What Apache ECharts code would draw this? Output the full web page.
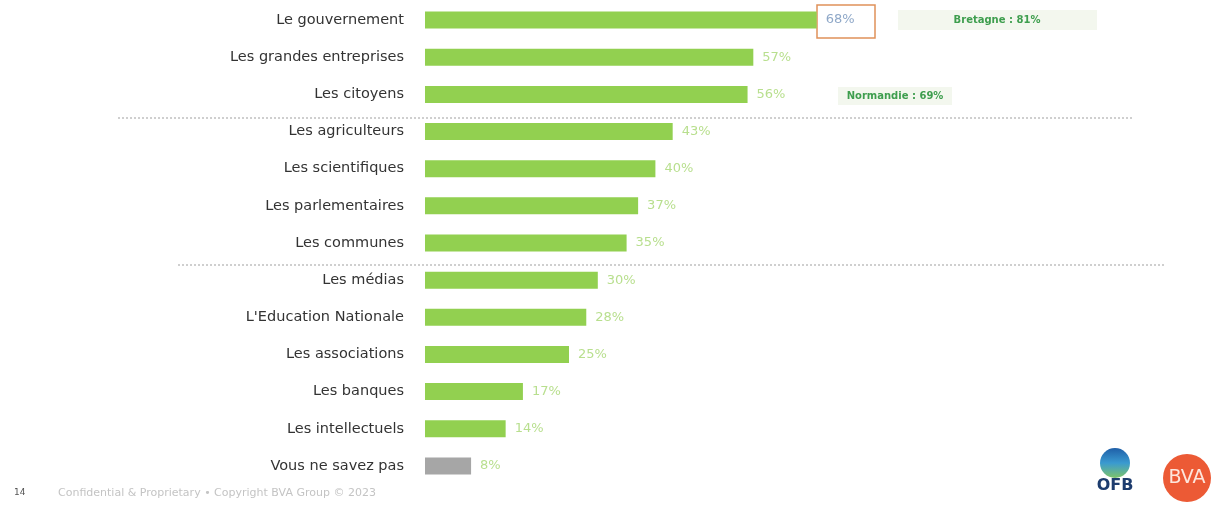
<!DOCTYPE html>
<html>
<head>
<meta charset="utf-8">
<script src="https://cdn.jsdelivr.net/npm/echarts@6/dist/echarts.min.js"></script>
<style>html,body{margin:0;padding:0;background:#fff;}#c{width:1211px;height:511px;}</style>
</head>
<body>
<div id="c"></div>
<script>
const categories = ["Le gouvernement","Les grandes entreprises","Les citoyens","Les agriculteurs","Les scientifiques","Les parlementaires","Les communes","Les médias","L'Education Nationale","Les associations","Les banques","Les intellectuels","Vous ne savez pas"];
const values = [68,57,56,43,40,37,35,30,28,25,17,14,8];
const valueLabels = ["68%","57%","56%","43%","40%","37%","35%","30%","28%","25%","17%","14%","8%"];
const regionNotes = ["Bretagne : 81%","Normandie : 69%"];
const footerText = ["14","Confidential & Proprietary • Copyright BVA Group © 2023"];

const chart = echarts.init(document.getElementById('c'));
const FONT = 'DejaVu Sans';
const data = values.map((v,i)=>({
  value: v,
  itemStyle: {color: i === values.length-1 ? '#a6a6a6' : '#92d050'},
  label: {color: i === 0 ? '#8fa8c8' : '#b8df8e'}
}));
chart.setOption({
  animation: false,
  grid: {left: 425, right: 210, top: 1.5, bottom: 26.5},
  xAxis: {type: 'value', min: 0, max: 100, show: false},
  yAxis: {
    type: 'category', data: categories, inverse: true,
    axisLine: {show: false}, axisTick: {show: false},
    axisLabel: {margin: 21, color: '#333', fontSize: 14.5, fontFamily: FONT}
  },
  series: [{
    type: 'bar', data: data, barWidth: 17,
    label: {show: true, position: 'right', distance: 9, fontSize: 13, fontFamily: FONT,
      formatter: p => valueLabels[p.dataIndex]}
  }],
  graphic: [
    {type:'line', shape:{x1:118,y1:118,x2:1132,y2:118}, style:{stroke:'#a0a0a0', lineWidth:1, lineDash:[2,2]}},
    {type:'line', shape:{x1:178,y1:265,x2:1165,y2:265}, style:{stroke:'#a0a0a0', lineWidth:1, lineDash:[2,2]}},
    {type:'rect', shape:{x:817,y:5,width:58,height:33}, style:{fill:'none', stroke:'#e0915a', lineWidth:1.5}},
    {type:'rect', shape:{x:898,y:10,width:199,height:20}, style:{fill:'#f3f7ee'}},
    {type:'text', x:997, y:20, style:{text:regionNotes[0], fill:'#3e9e4e', fontSize:10, fontWeight:'bold', fontFamily:FONT, align:'center', verticalAlign:'middle'}},
    {type:'rect', shape:{x:838,y:87,width:114,height:18}, style:{fill:'#f3f7ee'}},
    {type:'text', x:895, y:96, style:{text:regionNotes[1], fill:'#3e9e4e', fontSize:10, fontWeight:'bold', fontFamily:FONT, align:'center', verticalAlign:'middle'}},
    {type:'text', x:14, y:493, style:{text:footerText[0], fill:'#555', fontSize:9, fontFamily:FONT, verticalAlign:'middle'}},
    {type:'text', x:58, y:493, style:{text:footerText[1], fill:'#c4c4c4', fontSize:11, fontFamily:FONT, verticalAlign:'middle'}},
    {type:'circle', shape:{cx:1115,cy:463,r:15}, style:{fill:new echarts.graphic.LinearGradient(0,0,0,1,[{offset:0,color:'#1f5fa8'},{offset:0.5,color:'#3a9ad0'},{offset:1,color:'#7dc46a'}])}},
    {type:'text', x:1115, y:486, style:{text:'OFB', fill:'#1d3c6e', fontSize:16, fontWeight:'bold', fontFamily:FONT, align:'center', verticalAlign:'middle'}},
    {type:'circle', shape:{cx:1187,cy:478,r:24}, style:{fill:'#ec5a35'}},
    {type:'text', x:1187, y:478, style:{text:'BVA', fill:'#fde6dc', fontSize:19, fontFamily:FONT, align:'center', verticalAlign:'middle'}}
  ]
});
</script>
</body>
</html>
